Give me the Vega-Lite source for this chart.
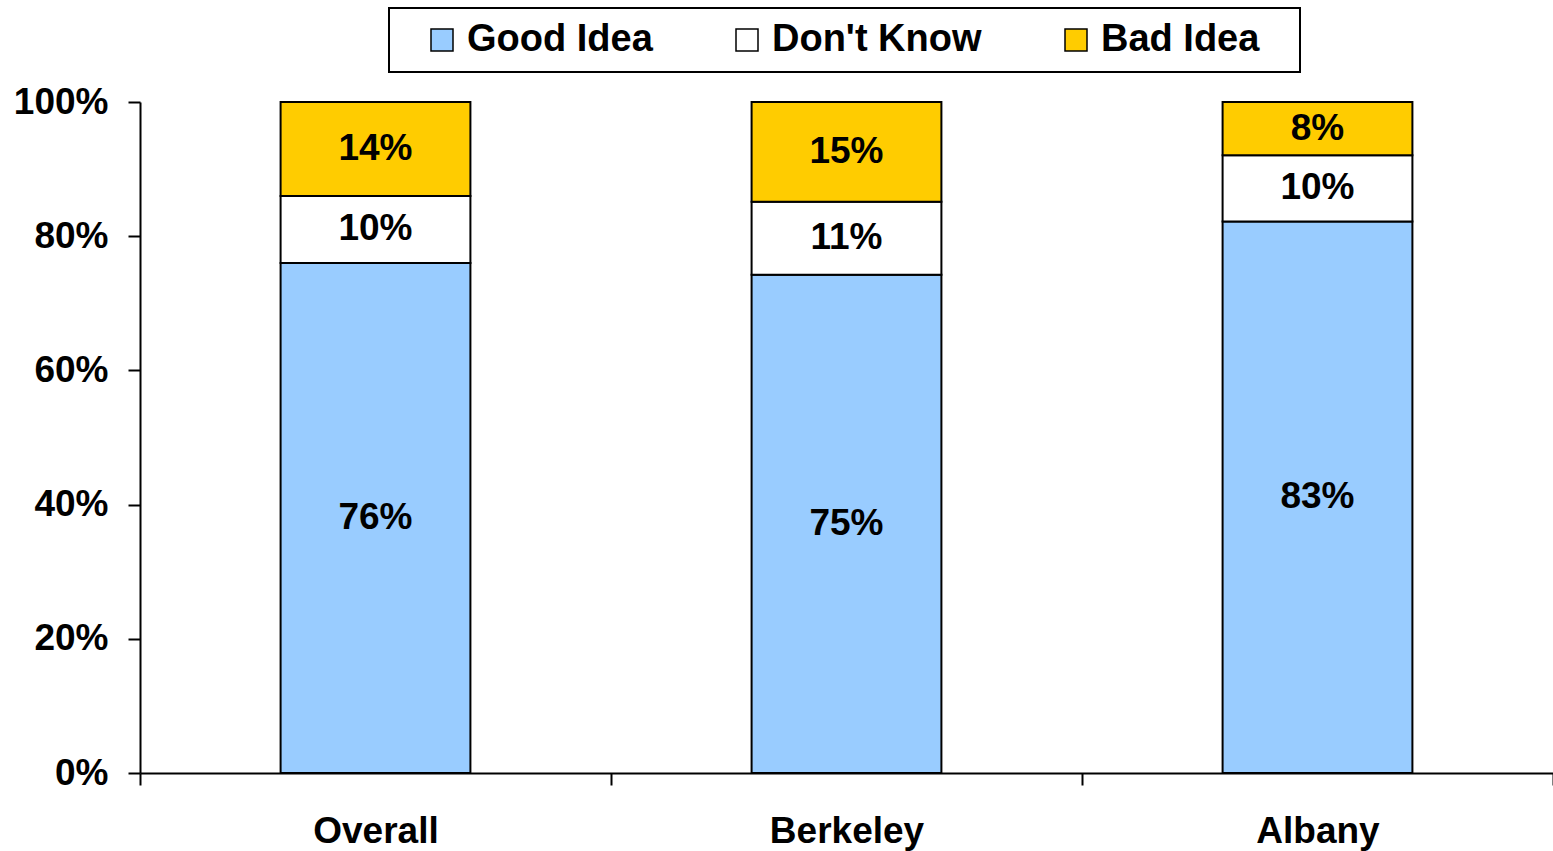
{
  "$schema": "https://vega.github.io/schema/vega-lite/v6.json",
  "autosize": {"type": "none"},
  "padding": {"left": 140, "top": 102, "right": 0, "bottom": 78},
  "width": 1413,
  "height": 671,
  "background": "white",
  "config": {
    "view": {"stroke": null},
    "font": "Liberation Sans",
    "axis": {"labelFont": "Liberation Sans", "labelFontWeight": "bold", "labelFontSize": 37, "labelColor": "black", "domainColor": "black", "tickColor": "black", "domainWidth": 2, "tickWidth": 2, "grid": false, "title": null}
  },
  "data": {
    "values": [
      {"group": "Overall", "response": "Good Idea", "value": 0.76},
      {"group": "Overall", "response": "Don't Know", "value": 0.10},
      {"group": "Overall", "response": "Bad Idea", "value": 0.14},
      {"group": "Berkeley", "response": "Good Idea", "value": 0.75},
      {"group": "Berkeley", "response": "Don't Know", "value": 0.11},
      {"group": "Berkeley", "response": "Bad Idea", "value": 0.15},
      {"group": "Albany", "response": "Good Idea", "value": 0.83},
      {"group": "Albany", "response": "Don't Know", "value": 0.10},
      {"group": "Albany", "response": "Bad Idea", "value": 0.08}
    ]
  },
  "encoding": {
    "x": {
      "field": "group", "type": "nominal", "sort": ["Overall", "Berkeley", "Albany"],
      "scale": {"paddingInner": 0, "paddingOuter": 0},
      "axis": {"labelAngle": 0, "tickBand": "extent", "tickSize": 12, "labelPadding": 28, "labelFontSize": 37}
    },
    "y": {
      "field": "value", "type": "quantitative", "stack": "normalize",
      "scale": {"domain": [0, 1], "nice": false},
      "axis": {"values": [0, 0.2, 0.4, 0.6, 0.8, 1], "format": ".0%", "tickSize": 12, "labelPadding": 20}
    },
    "order": {"field": "response", "sort": "descending"}
  },
  "layer": [
    {
      "mark": {"type": "bar", "stroke": "black", "strokeWidth": 2, "width": {"band": 0.403}},
      "encoding": {
        "fill": {
          "field": "response", "type": "nominal",
          "scale": {"domain": ["Good Idea", "Don't Know", "Bad Idea"], "range": ["#99CCFF", "#FFFFFF", "#FFCC00"]},
          "legend": {
            "title": " ", "titleOrient": "right", "titlePadding": 28, "titleFontSize": 38, "titleFont": "Liberation Sans",
            "orient": "none", "legendX": 249, "legendY": -94, "direction": "horizontal",
            "strokeColor": "black", "padding": 13, "symbolOffset": 21,
            "symbolType": "square", "symbolSize": 484, "symbolStrokeColor": "black", "symbolStrokeWidth": 1.5,
            "labelFont": "Liberation Sans", "labelFontWeight": "bold", "labelFontSize": 38, "labelColor": "black",
            "labelOffset": 6, "columnPadding": 54, "labelLimit": 400,
            "encode": {"legend": {"update": {"strokeWidth": {"value": 2}}}}
          }
        }
      }
    },
    {
      "mark": {"type": "text", "font": "Liberation Sans", "fontWeight": "bold", "fontSize": 37, "color": "black", "baseline": "middle"},
      "encoding": {
        "y": {"field": "value", "type": "quantitative", "stack": "normalize", "bandPosition": 0.5},
        "detail": {"field": "response"},
        "text": {"field": "value", "type": "quantitative", "format": ".0%"}
      }
    }
  ]
}
